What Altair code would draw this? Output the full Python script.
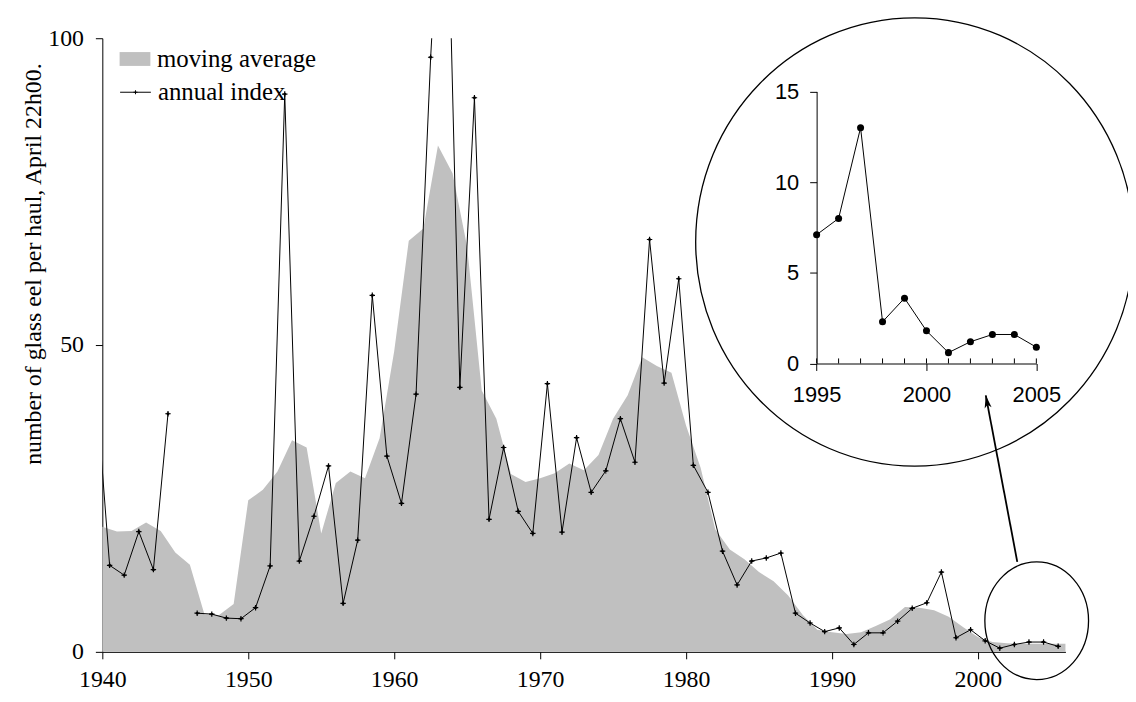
import altair as alt
import pandas as pd

# ---------------- data ----------------
idx_years = list(range(1939, 2006))
annual = [45.0, 14.1, 12.5, 19.6, 13.4, 38.8, None, 6.3, 6.15, 5.5, 5.4,
          7.2, 14.0, 90.9, 14.8, 22.1, 30.3, 7.9, 18.2, 58.1, 31.9,
          24.2, 42.0, 96.9, 140.0, 43.1, 90.3, 21.6, 33.3, 22.9, 19.3,
          43.7, 19.5, 34.9, 26.0, 29.5, 38.0, 30.9, 67.2, 43.8, 60.8,
          30.4, 26.0, 16.4, 10.9, 14.8, 15.3, 16.1, 6.3, 4.7, 3.3,
          3.9, 1.2, 3.1, 3.1, 5.0, 7.1, 8.0, 13.0, 2.3, 3.6,
          1.8, 0.6, 1.2, 1.6, 1.6, 0.9]

ma_years = list(range(1940, 2007))
moving = [20.4, 19.6, 19.7, 21.1, 19.7, 16.2, 14.2, 6.1, 6.0, 7.8,
          24.7, 26.4, 29.4, 34.5, 33.3, 19.3, 27.5, 29.4, 28.3, 34.8,
          49.0, 67.0, 69.0, 82.5, 78.0, 66.0, 42.6, 38.0, 29.0, 27.7,
          28.3, 29.1, 30.7, 29.6, 32.1, 38.0, 41.8, 48.0, 46.6, 45.5,
          36.9, 30.0, 20.0, 16.7, 15.1, 13.0, 11.5, 9.2, 6.0, 3.6,
          3.2, 2.9, 3.2, 4.2, 5.3, 7.3, 7.2, 6.8, 5.7, 4.0,
          2.4, 1.6, 1.4, 1.3, 1.3, 1.3, 1.3]

main_x_ticks = [1940, 1950, 1960, 1970, 1980, 1990, 2000]
main_y_ticks = [0, 50, 100]
inset_x_labels = [1995, 2000, 2005]
inset_minor = list(range(1995, 2006))
inset_y_ticks = [0, 5, 10, 15]

# annotation anchors (data coordinates of main chart)
ring_x = [1995.67, 2004.03]
ring_y = [66.8, 5.07]
arrow_from = [2002.70, 14.67]
arrow_to = [2000.54, 41.8]

SERIF = "Liberation Serif"
SANS = "Liberation Sans"
W, H = 970, 618

mov_df = pd.DataFrame({"year": ma_years, "value": moving, "s": "moving average"})
ann_df = pd.DataFrame({"year": idx_years, "value": annual, "s": "annual index"})
inset_df = ann_df[ann_df["year"] >= 1995].reset_index(drop=True)

xs = alt.Scale(domain=[1940, 2006], nice=False, zero=False)
ys = alt.Scale(domain=[0, 100], nice=False)

main_axis = dict(domainColor="black", tickColor="black", labelColor="black",
                 labelFont=SERIF, labelFontSize=24, tickSize=7, grid=False,
                 domainWidth=1, tickWidth=1)

area = alt.Chart(mov_df).mark_area(fillOpacity=1).encode(
    x=alt.X("year:Q", scale=xs,
            axis=alt.Axis(orient="bottom", values=main_x_ticks, format="d", title=None,
                          labelPadding=9, labelFlush=False, **main_axis)),
    y=alt.Y("value:Q", scale=ys,
            axis=alt.Axis(orient="left", values=main_y_ticks,
                          title="number of glass eel per haul, April 22h00.",
                          titleFont=SERIF, titleFontSize=24, titleFontWeight="normal",
                          titleColor="black", titleX=-62, titleY=227,
                          titleBaseline="alphabetic", titleAlign="center", titleAngle=270,
                          labelPadding=12, **main_axis)),
    fill=alt.Fill("s:N", scale=alt.Scale(domain=["moving average"], range=["#c0c0c0"]),
                  legend=alt.Legend(orient="none", legendX=17.4, legendY=5.4, title=None,
                                    symbolType="M-1,-0.45H1V0.45H-1Z", symbolSize=961,
                                    symbolStrokeWidth=0, labelFont=SERIF, labelFontSize=25,
                                    labelColor="black", labelOffset=6.6, labelLimit=0,
                                    padding=0)),
)

line = alt.Chart(ann_df).transform_calculate(xpos="datum.year + 0.5").mark_line(
    strokeWidth=1, clip=True,
    point=alt.OverlayMarkDef(shape="M-1,0H1M0,-1V1M-0.45,0L0,-0.45L0.45,0L0,0.45Z",
                             size=30, filled=True, fill="black", stroke="black",
                             strokeWidth=1.2, clip=True),
).encode(
    x=alt.X("xpos:Q", scale=xs, axis=None),
    y=alt.Y("value:Q", scale=ys, axis=None),
    stroke=alt.Stroke("s:N", scale=alt.Scale(domain=["annual index"], range=["black"]),
                      legend=alt.Legend(orient="none", legendX=17.4, legendY=38.4, title=None,
                                        symbolType="M-1,0H1M0,-0.13V0.13M-0.13,0H0.13",
                                        symbolSize=961, symbolStrokeWidth=1,
                                        symbolFillColor="transparent",
                                        labelFont=SERIF, labelFontSize=25,
                                        labelColor="black", labelOffset=6.6, labelLimit=0,
                                        padding=0)),
)

rings_df = pd.DataFrame({"x": ring_x, "y": ring_y})
big_ring = alt.Chart(rings_df.iloc[[0]]).mark_point(
    filled=False, stroke="black", strokeWidth=1.3, opacity=1,
    shape="M-0.977,0A0.977,1 0 1,1 0.977,0A0.977,1 0 1,1 -0.977,0", size=203900,
).encode(x=alt.X("x:Q", scale=xs, axis=None), y=alt.Y("y:Q", scale=ys, axis=None))

small_ring = alt.Chart(rings_df.iloc[[1]]).mark_point(
    filled=False, stroke="black", strokeWidth=1.3, opacity=1,
    shape="M-0.882,0A0.882,1 0 1,1 0.882,0A0.882,1 0 1,1 -0.882,0", size=14019,
).encode(x=alt.X("x:Q", scale=xs, axis=None), y=alt.Y("y:Q", scale=ys, axis=None))

arrow_df = pd.DataFrame({"x": [arrow_from[0]], "y": [arrow_from[1]],
                         "x2": [arrow_to[0]], "y2": [arrow_to[1]]})
arrow = alt.Chart(arrow_df).mark_rule(color="black", strokeWidth=1.8).encode(
    x=alt.X("x:Q", scale=xs, axis=None), y=alt.Y("y:Q", scale=ys, axis=None),
    x2="x2:Q", y2="y2:Q")
head = alt.Chart(arrow_df).mark_point(
    filled=True, color="black", opacity=1, angle=349.3,
    shape="M0,0L0.5,1.8L0,1.35L-0.5,1.8Z", size=200,
).encode(x=alt.X("x2:Q", scale=xs, axis=None), y=alt.Y("y2:Q", scale=ys, axis=None))

# ---------------- inset ----------------
ixs = alt.Scale(domain=[1995, 2005], range=[719.4, 940.7], nice=False, zero=False)
iys = alt.Scale(domain=[0, 15], range=[327.6, 53.6], nice=False, zero=False)
inset_axis = dict(domainColor="black", tickColor="black", labelColor="black",
                  labelFont=SANS, labelFontSize=22, grid=False, tickSize=7,
                  domainWidth=1, tickWidth=1, title=None)

inset_line = alt.Chart(inset_df).mark_line(color="black", strokeWidth=1).encode(
    x=alt.X("year:Q", scale=ixs,
            axis=alt.Axis(orient="bottom", offset=-290.4, values=inset_x_labels,
                          format="d", labelPadding=14, labelFlush=False, **inset_axis)),
    y=alt.Y("value:Q", scale=iys,
            axis=alt.Axis(orient="left", offset=-719.4, values=inset_y_ticks,
                          labelPadding=11, **inset_axis)),
)
inset_pts = alt.Chart(inset_df).mark_point(filled=True, color="black", opacity=1,
                                            shape="circle", size=50).encode(
    x=alt.X("year:Q", scale=ixs, axis=None), y=alt.Y("value:Q", scale=iys, axis=None))

minor_df = pd.DataFrame({"year": inset_minor, "lo": 0.0, "hi": 0.28})
inset_ticks = alt.Chart(minor_df).mark_rule(color="black", strokeWidth=1).encode(
    x=alt.X("year:Q", scale=ixs, axis=None), y=alt.Y("lo:Q", scale=iys, axis=None),
    y2="hi:Q")

chart = alt.layer(area, line, big_ring, small_ring, arrow, head,
                  inset_ticks, inset_line, inset_pts).resolve_scale(
    x="independent", y="independent").properties(
    width=W, height=H,
    padding={"left": 95, "top": 28, "right": 63, "bottom": 40},
    autosize=alt.AutoSizeParams(type="none"),
    background="white",
).configure_view(stroke=None)

chart.save("out.html", embed_options={"renderer": "svg", "actions": False})
